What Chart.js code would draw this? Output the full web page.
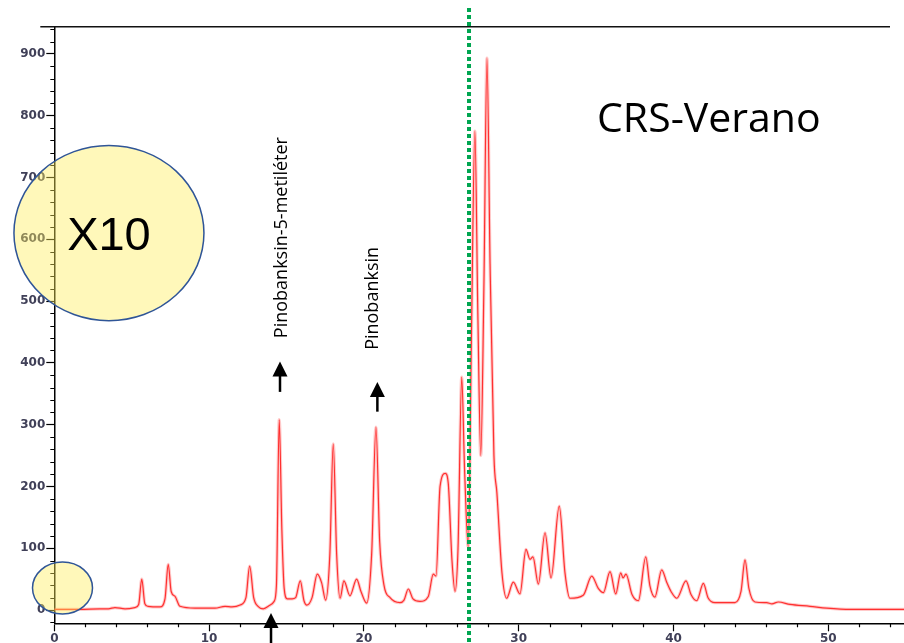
<!DOCTYPE html>
<html>
<head>
<meta charset="utf-8">
<title>CRS-Verano</title>
<script src="https://cdn.jsdelivr.net/npm/chart.js@4.4.1/dist/chart.umd.min.js"></script>
<style>
    html, body { margin: 0; padding: 0; background: #ffffff; }
    #wrap { width: 904px; height: 643px; position: relative; overflow: hidden; }
</style>
</head>
<body>
<div id="wrap"><canvas id="chromatogram" width="904" height="643"></canvas></div>
<script>
// Chromatogram: retention time (min) and detector response
const retentionTimes = [
    0, 1.66, 2.95, 3.5, 3.92, 4.57, 5.21, 5.45, 5.65, 5.85,
    6.05, 6.83, 7.15, 7.36, 7.55, 7.8, 8.12, 9.09, 10.38, 11.03,
    11.48, 12.0, 12.38, 12.62, 12.88, 13.16, 13.5, 13.95, 14.2, 14.35,
    14.53, 14.7, 14.85, 15.05, 15.36, 15.59, 15.89, 16.13, 16.32, 16.65,
    16.99, 17.27, 17.53, 17.8, 18.02, 18.24, 18.46, 18.71, 19.1, 19.53,
    19.81, 20.18, 20.5, 20.78, 21.02, 21.3, 21.69, 22.33, 22.59, 22.87,
    23.17, 23.62, 24.16, 24.48, 24.66, 24.92, 25.26, 25.45, 25.69, 25.89,
    26.08, 26.32, 26.5, 26.74, 26.95, 27.17, 27.36, 27.55, 27.75, 27.95,
    28.15, 28.4, 28.59, 28.92, 29.22, 29.65, 30.08, 30.47, 30.73, 30.92,
    31.27, 31.7, 32.09, 32.62, 32.99, 33.31, 34.17, 34.72, 35.14, 35.47,
    35.9, 36.27, 36.59, 36.74, 36.93, 37.32, 37.73, 38.21, 38.47, 38.8,
    39.24, 39.56, 39.84, 40.21, 40.81, 41.13, 41.5, 41.93, 42.23, 42.68,
    43.97, 44.36, 44.62, 44.87, 45.26, 46.02, 46.36, 46.77, 47.53, 48.82,
    49.9, 51.45, 54.89
];
const intensities = [
    1, 1, 2, 2, 4, 2, 4, 9, 50, 10,
    6, 5, 18, 74, 30, 22, 6, 3, 3, 6,
    5, 8, 20, 71, 20, 6, 2, 8, 14, 40,
    308, 130, 35, 18, 18, 20, 47, 15, 8, 20,
    58, 44, 16, 90, 269, 90, 19, 47, 23, 50,
    30, 11, 90, 296, 110, 40, 20, 12, 16, 34,
    18, 14, 22, 58, 55, 200, 221, 205, 80, 30,
    100, 377, 230, 102, 450, 775, 480, 250, 520, 893,
    560, 250, 190, 60, 19, 45, 26, 98, 82, 86,
    42, 125, 52, 168, 60, 19, 24, 55, 35, 28,
    62, 26, 60, 52, 58, 25, 15, 86, 40, 21,
    65, 45, 30, 19, 47, 25, 15, 43, 20, 12,
    12, 30, 81, 35, 13, 12, 10, 13, 9, 6,
    3, 1, 1
];

// Axis ticks
const xTickLabels = [0, 10, 20, 30, 40, 50];
const yTickLabels = [0, 100, 200, 300, 400, 500, 600, 700, 800, 900];
const xRange = [0, 54.89];
const yRange = [-21.5, 944];

// Annotation texts
const compoundLabels = ['Pinobanksin-5-metiléter', 'Pinobanksin'];
const sampleTitle = 'CRS-Verano';
const zoomLabel = 'X10';
const splitTime = 26.79;

// Where the annotations sit, in data units (time, response)
const annotationLayout = {
    compounds: [
        { t: 15.03, v: 440, size: 18 },
        { t: 20.91, v: 421, size: 18 }
    ],
    arrowsUp: [
        { t: 14.58, tip: 402, end: 353 },
        { t: 20.87, tip: 369, end: 321 },
        { t: 14.0, tip: -5, end: -60 }
    ],
    bigEllipse: { t: 3.53, v: 610, rx: 95, ry: 87.6 },
    smallEllipse: { t: 0.53, v: 35.6, rx: 30, ry: 26 },
    title: { t: 35.06, v: 774 }
};

const minorStepX = 2;
const minorStepY = 20;

function drawArrowUp(ctx, x, yTip, yEnd) {
    const headLen = 15;
    const halfW = 7.5;
    ctx.save();
    ctx.strokeStyle = '#000';
    ctx.fillStyle = '#000';
    ctx.lineWidth = 2.5;
    ctx.beginPath();
    ctx.moveTo(x, yTip + headLen - 1);
    ctx.lineTo(x, yEnd);
    ctx.stroke();
    ctx.beginPath();
    ctx.moveTo(x, yTip);
    ctx.lineTo(x - halfW, yTip + headLen);
    ctx.lineTo(x + halfW, yTip + headLen);
    ctx.closePath();
    ctx.fill();
    ctx.restore();
}

function drawEllipse(ctx, cx, cy, rx, ry) {
    ctx.save();
    ctx.beginPath();
    ctx.ellipse(cx, cy, rx, ry, 0, 0, Math.PI * 2);
    ctx.fillStyle = 'rgba(255, 238, 90, 0.42)';
    ctx.fill();
    ctx.strokeStyle = '#2f5597';
    ctx.lineWidth = 1.5;
    ctx.stroke();
    ctx.restore();
}

const decorPlugin = {
    id: 'decor',
    afterDraw(chart) {
        const { ctx, chartArea } = chart;
        const xs = chart.scales.x;
        const ys = chart.scales.y;
        const a = annotationLayout;

        ctx.save();
        // minor ticks
        ctx.strokeStyle = '#000';
        ctx.lineWidth = 1.2;
        ctx.beginPath();
        for (let t = minorStepX; t <= xRange[1]; t += minorStepX) {
            if (t % 10 === 0) continue;
            const px = Math.round(xs.getPixelForValue(t)) + 0.5;
            ctx.moveTo(px, chartArea.bottom);
            ctx.lineTo(px, chartArea.bottom + 4);
        }
        for (let v = -20; v <= yRange[1]; v += minorStepY) {
            if (v % 100 === 0) continue;
            const py = Math.round(ys.getPixelForValue(v)) + 0.5;
            ctx.moveTo(chartArea.left - 4, py);
            ctx.lineTo(chartArea.left, py);
        }
        ctx.stroke();

        // frame line on top
        ctx.lineWidth = 1.5;
        ctx.strokeStyle = '#111';
        ctx.beginPath();
        ctx.moveTo(chartArea.left - 14, chartArea.top);
        ctx.lineTo(chartArea.right - 14, chartArea.top);
        ctx.stroke();
        ctx.restore();

        // highlighted areas
        const be = a.bigEllipse;
        const bx = xs.getPixelForValue(be.t);
        const by = ys.getPixelForValue(be.v);
        drawEllipse(ctx, bx, by, be.rx, be.ry);
        const se = a.smallEllipse;
        drawEllipse(ctx, xs.getPixelForValue(se.t), ys.getPixelForValue(se.v), se.rx, se.ry);

        ctx.save();
        ctx.fillStyle = '#000';
        ctx.font = '47px "Liberation Sans", Arial, sans-serif';
        ctx.textAlign = 'center';
        ctx.textBaseline = 'alphabetic';
        ctx.fillText(zoomLabel, bx, by + 17);

        // sample title
        ctx.font = '41px "Open Sans", sans-serif';
        ctx.textAlign = 'left';
        ctx.fillText(sampleTitle, xs.getPixelForValue(a.title.t), ys.getPixelForValue(a.title.v));

        // compound names, rotated
        a.compounds.forEach((c, i) => {
            ctx.save();
            ctx.translate(xs.getPixelForValue(c.t), ys.getPixelForValue(c.v));
            ctx.rotate(-Math.PI / 2);
            ctx.font = c.size + 'px "Open Sans", sans-serif';
            ctx.textAlign = 'left';
            ctx.textBaseline = 'alphabetic';
            ctx.fillText(compoundLabels[i], 0, 0);
            ctx.restore();
        });
        ctx.restore();

        a.arrowsUp.forEach(ar => {
            drawArrowUp(ctx, xs.getPixelForValue(ar.t), ys.getPixelForValue(ar.tip), ys.getPixelForValue(ar.end));
        });

        // split marker
        ctx.save();
        const gx = xs.getPixelForValue(splitTime);
        ctx.strokeStyle = '#00a651';
        ctx.lineWidth = 4;
        ctx.setLineDash([4, 3]);
        ctx.beginPath();
        ctx.moveTo(gx, 8);
        ctx.lineTo(gx, chart.height);
        ctx.stroke();
        ctx.restore();
    }
};

const points = retentionTimes.map((t, i) => ({ x: t, y: intensities[i] }));
const tickFont = { family: '"DejaVu Sans", Verdana, sans-serif', weight: 'bold', size: 12 };

new Chart(document.getElementById('chromatogram'), {
    type: 'line',
    data: {
        datasets: [
            {
                data: points,
                borderColor: 'rgba(255, 120, 120, 0.4)',
                borderWidth: 3.2,
                pointRadius: 0,
                cubicInterpolationMode: 'monotone',
                fill: false
            },
            {
                data: points,
                borderColor: '#ff0000',
                borderWidth: 1.2,
                pointRadius: 0,
                cubicInterpolationMode: 'monotone',
                fill: false
            }
        ]
    },
    options: {
        responsive: false,
        animation: false,
        devicePixelRatio: 1,
        layout: { padding: { top: 26.7, right: 0, left: 0, bottom: 0 } },
        plugins: {
            legend: { display: false },
            tooltip: { enabled: false }
        },
        scales: {
            x: {
                type: 'linear',
                min: xRange[0],
                max: xRange[1],
                afterBuildTicks: (scale) => { scale.ticks = xTickLabels.map(v => ({ value: v })); },
                afterFit: (scale) => { scale.height = 19.7; },
                grid: { drawOnChartArea: false, drawTicks: true, tickLength: 8, tickColor: '#000', tickWidth: 1.2 },
                border: { display: true, color: '#000', width: 1.5 },
                ticks: { color: '#404058', font: tickFont, padding: 0, maxRotation: 0, autoSkip: false }
            },
            y: {
                type: 'linear',
                min: yRange[0],
                max: yRange[1],
                afterBuildTicks: (scale) => { scale.ticks = yTickLabels.map(v => ({ value: v })); },
                afterFit: (scale) => { scale.width = 54.3; },
                grid: { drawOnChartArea: false, drawTicks: true, tickLength: 8, tickColor: '#000', tickWidth: 1.2 },
                border: { display: true, color: '#000', width: 1.5 },
                ticks: { color: '#404058', font: tickFont, padding: 1, autoSkip: false }
            }
        }
    },
    plugins: [decorPlugin]
});
</script>
</body>
</html>
